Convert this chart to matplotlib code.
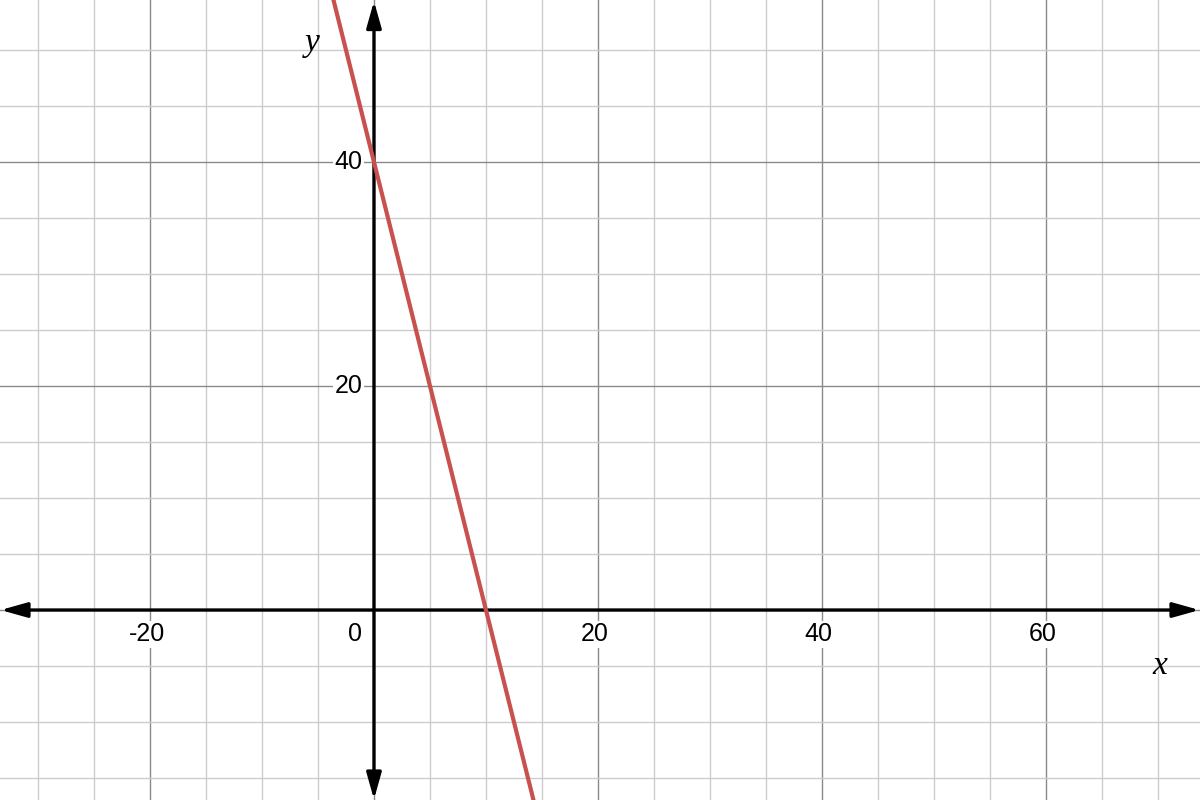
import numpy as np
import matplotlib.pyplot as plt

# view window and line y = 40 - 4x
x_range = [-33.39, 73.75]
y_range = [-16.96, 54.46]
slope = -4
intercept = 40

major_step = 20
minor_step = 5
x_tick_vals = [-20, 20, 40, 60]
y_tick_vals = [20, 40]

fig = plt.figure(figsize=(12, 8), dpi=100)
ax = fig.add_axes([0, 0, 1, 1])

# grid
ax.set_xticks(np.arange(-40, 81, major_step))
ax.set_yticks(np.arange(-40, 81, major_step))
ax.set_xticks(np.arange(-40, 81, minor_step), minor=True)
ax.set_yticks(np.arange(-40, 81, minor_step), minor=True)
ax.grid(which='minor', color='#cccccc', linewidth=1.0)
ax.grid(which='major', color='#8a8a8a', linewidth=1.0)
ax.tick_params(which='both', length=0, labelbottom=False, labelleft=False)
for s in ax.spines.values():
    s.set_visible(False)
ax.set_axisbelow(True)
ax.set_xlim(x_range)
ax.set_ylim(y_range)

# axes with arrows
arrow = dict(arrowstyle='<|-|>,head_length=1.6,head_width=0.45', color='black',
             linewidth=2.4, shrinkA=0, shrinkB=0)
ax.annotate('', xy=(x_range[1] - 0.05, 0), xytext=(x_range[0] + 0.05, 0),
            arrowprops=arrow, zorder=3)
ax.annotate('', xy=(0, y_range[1] - 0.1), xytext=(0, y_range[0] + 0.05),
            arrowprops=arrow, zorder=3)

# the line
xs = np.array(x_range)
ax.plot(xs, slope * xs + intercept, color='#c8504e', linewidth=3, zorder=4)

# tick labels
box = dict(facecolor='white', edgecolor='none', pad=1)
for v in x_tick_vals:
    ax.text(v - 0.3, -1.1, str(v), ha='center', va='top', fontsize=18,
            family='Liberation Sans', bbox=box, zorder=2)
ax.text(-1.7, -1.1, '0', ha='center', va='top', fontsize=18,
        family='Liberation Sans', bbox=box, zorder=2)
for v in y_tick_vals:
    ax.text(-1.0, v, str(v), ha='right', va='center', fontsize=18,
            family='Liberation Sans', bbox=box, zorder=2)

# axis names
ax.text(70.2, -5.0, 'x', fontsize=24, style='italic', family='Liberation Serif',
        ha='center', va='center')
ax.text(-5.5, 50.6, 'y', fontsize=24, style='italic', family='Liberation Serif',
        ha='center', va='center')

fig.savefig('out.png', dpi=100)
